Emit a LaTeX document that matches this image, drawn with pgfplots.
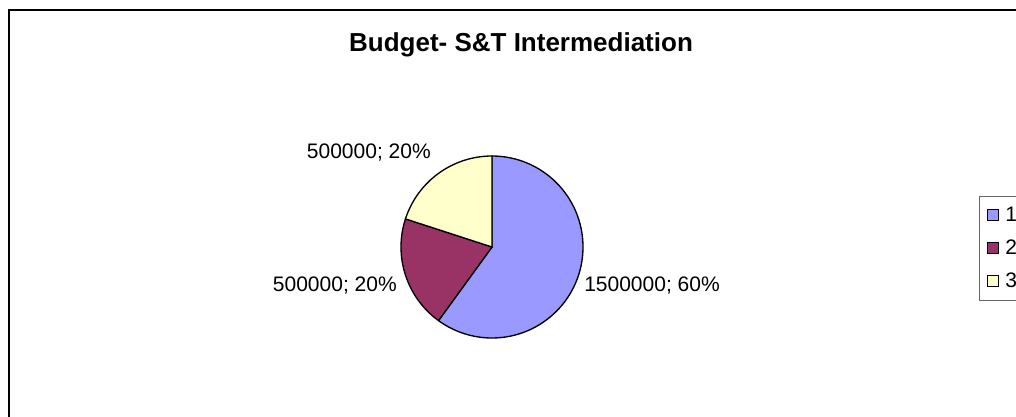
\documentclass[border=0pt]{standalone}
\usepackage{pgfplots}
\usepackage{pgfplotstable}
\usepackage{fontspec}
\setmainfont{Liberation Sans}
\pgfplotsset{compat=1.18}
\definecolor{sliceA}{HTML}{9999FF}
\definecolor{sliceB}{HTML}{993366}
\definecolor{sliceC}{HTML}{FFFFCC}
\pgfplotstableread{
item value
1 1500000
2 500000
3 500000
}\budget
\begin{document}
\begin{tikzpicture}
\pgfplotstablegetelem{0}{value}\of\budget \let\va\pgfplotsretval
\pgfplotstablegetelem{1}{value}\of\budget \let\vb\pgfplotsretval
\pgfplotstablegetelem{2}{value}\of\budget \let\vc\pgfplotsretval
\pgfkeys{/pgf/fpu=true,/pgf/fpu/output format=fixed}
\pgfmathsetmacro\total{\va+\vb+\vc}
\pgfmathsetmacro\angA{90-360*\va/\total}
\pgfmathsetmacro\angB{\angA-360*\vb/\total}
\pgfmathsetmacro\angC{\angB-360*\vc/\total}
\pgfkeys{/pgf/fpu=false}
\tikzset{lbl/.style={anchor=base west, inner sep=0pt, font=\fontsize{15.75}{18}\selectfont}}
\begin{axis}[
  name=ax,
  scale only axis,
  width=762pt, height=312.75pt,
  xmin=0, xmax=1016, ymin=0, ymax=417,
  y dir=reverse,
  hide axis,
  clip=false,
]
% frame
\draw[line width=1.5pt] (axis cs:8.5,430) -- (axis cs:8.5,10.5) -- (axis cs:1040,10.5);
% title
\node[anchor=base, inner sep=0pt, font=\fontsize{19.5}{23}\selectfont\bfseries] at (axis cs:521,52) {Budget- S\&T Intermediation};
% pie
\fill[sliceA, draw=black, line width=1pt, line join=round] (axis cs:492,247) -- ++(90:68.25pt) arc[start angle=90, end angle=\angA, radius=68.25pt] -- cycle;
\fill[sliceB, draw=black, line width=1pt, line join=round] (axis cs:492,247) -- ++(\angA:68.25pt) arc[start angle=\angA, end angle=\angB, radius=68.25pt] -- cycle;
\fill[sliceC, draw=black, line width=1pt, line join=round] (axis cs:492,247) -- ++(\angB:68.25pt) arc[start angle=\angB, end angle=\angC, radius=68.25pt] -- cycle;
% data labels
\node[lbl, anchor=base east] at (axis cs:431,158) {500000; 20\%};
\node[lbl, anchor=base east] at (axis cs:397,291) {500000; 20\%};
\node[lbl] at (axis cs:584,291) {1500000; 60\%};
% legend
\draw[gray!80!black, line width=0.75pt] (axis cs:979,196) rectangle (axis cs:1060,300);
\draw[black, fill=sliceA, line width=0.75pt] (axis cs:987,209) rectangle (axis cs:998,220);
\draw[black, fill=sliceB, line width=0.75pt] (axis cs:987,242) rectangle (axis cs:998,253);
\draw[black, fill=sliceC, line width=0.75pt] (axis cs:987,275) rectangle (axis cs:998,286);
\node[lbl] at (axis cs:1005,221) {1};
\node[lbl] at (axis cs:1005,254) {2};
\node[lbl] at (axis cs:1005,287) {3};
\end{axis}
\pgfresetboundingbox
\path (ax.south west) rectangle (ax.north east);
\end{tikzpicture}
\end{document}
